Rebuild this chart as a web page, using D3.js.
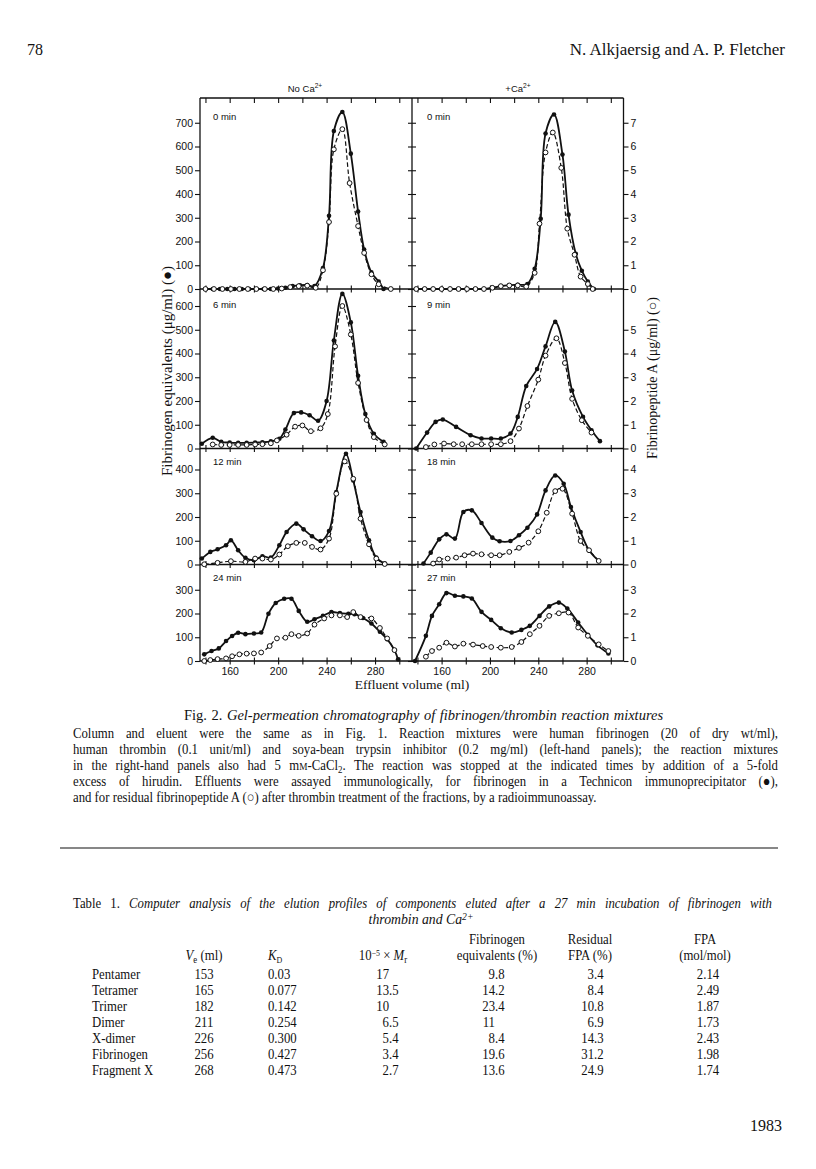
<!DOCTYPE html>
<html><head><meta charset="utf-8">
<script src="https://cdn.jsdelivr.net/npm/d3@7"></script>
<style>body{margin:0;background:#fff}</style>
</head><body>
<svg id="page" width="816" height="1169"></svg>
<script>
// ---------------- DATA ----------------
// Fibrinogen equivalents (ug/ml, filled circles) and fibrinopeptide A (ug/ml, open circles)
// each point: [effluent volume (ml), value]
const fib_noCa_0 = [[140,0],[146,0],[152,0],[158,0],[164,0],[170,0],[176,0],[182,0],[188,0],[194,0],[200,2],[206,5],[212,12],[218,16],[224,17],[230,12],[237,88],[242,308],[246,665],[253,745],[260,570],[266,326],[271,166],[277,70],[283,31],[287,0]];
const fpa_noCa_0 = [[140,0],[147,0],[154,0],[161,0],[168,0],[175,0],[182,0],[189,0],[196,0],[203,0.02],[210,0.08],[217,0.12],[224,0.14],[231,0.05],[237,0.79],[242,2.82],[246,5.88],[253,6.73],[259,4.46],[266,2.65],[271,1.52],[277,0.62],[283,0.2],[293,0]];
const fib_Ca_0 = [[139,0],[146,0],[153,0],[160,0],[167,0],[174,0],[181,0],[188,0],[195,0],[202,5],[209,12],[216,16],[223,18],[231,21],[237,85],[242,296],[246,655],[253,735],[260,566],[265,313],[271,148],[276,77],[281,31],[286,0]];
const fpa_Ca_0 = [[139,0],[146,0],[153,0],[160,0],[167,0],[174,0],[181,0],[188,0],[195,0],[202,0.05],[209,0.12],[216,0.15],[223,0.15],[230,0.1],[237,0.68],[241,2.75],[246,5.75],[252,6.59],[259,5.1],[264,2.54],[270,1.44],[275,0.52],[281,0.21],[285,0]];
const fib_noCa_6 = [[137,20],[146,45],[153,28],[160,25],[167,24],[174,24],[181,25],[187,26],[194,30],[201,41],[206,80],[213,149],[219,152],[226,140],[233,117],[240,200],[246,455],[253,651],[260,531],[266,306],[272,145],[279,62],[287,28]];
const fpa_noCa_6 = [[146,0.17],[153,0.15],[160,0.15],[167,0.15],[174,0.15],[181,0.17],[187,0.18],[194,0.22],[199,0.34],[207,0.58],[214,0.92],[220,0.97],[227,0.73],[235,0.85],[241,1.45],[247,4.3],[253,6.0],[260,4.8],[266,2.76],[273,1.2],[279,0.48],[288,0.17]];
const fib_Ca_9 = [[139,0],[148,67],[155,112],[161,122],[172,91],[184,56],[193,42],[201,42],[209,42],[217,63],[223,133],[230,263],[239,335],[246,430],[254,533],[262,408],[268,244],[277,133],[284,77],[291,31]];
const fpa_Ca_9 = [[147,0.06],[154,0.17],[162,0.21],[170,0.18],[177,0.18],[185,0.18],[193,0.18],[201,0.18],[209,0.18],[217,0.31],[224,0.84],[231,1.79],[240,2.9],[246,3.91],[255,4.64],[262,3.6],[268,2.09],[276,1.19],[284,0.67]];
const fib_noCa_12 = [[137,25],[144,53],[150,64],[157,81],[161,102],[167,60],[173,28],[180,18],[187,35],[194,29],[201,81],[207,137],[215,172],[221,148],[228,119],[235,99],[242,141],[248,305],[256,466],[262,354],[268,221],[275,102],[281,29],[288,4]];
const fpa_noCa_12 = [[139,0.01],[150,0.07],[161,0.14],[173,0.11],[181,0.25],[187,0.25],[194,0.21],[201,0.42],[208,0.77],[215,0.91],[222,0.91],[228,0.74],[235,0.63],[242,1.09],[248,2.98],[255,4.34],[262,3.61],[268,1.93],[275,0.85],[281,0.25],[288,0.02]];
const fib_Ca_18 = [[145,4],[151,50],[158,106],[164,127],[171,109],[178,221],[185,228],[193,175],[202,113],[208,98],[217,99],[224,123],[231,155],[239,211],[246,312],[254,375],[261,340],[267,242],[275,137],[282,60],[290,15]];
const fpa_Ca_18 = [[153,0.04],[158,0.21],[165,0.25],[172,0.29],[179,0.39],[186,0.46],[193,0.43],[201,0.39],[208,0.39],[216,0.53],[224,0.7],[232,0.92],[240,1.4],[247,2.18],[254,3.09],[260,3.19],[268,2.14],[275,0.99],[282,0.6],[290,0.15]];
const fib_noCa_24 = [[139,28],[145,42],[151,53],[157,84],[162,105],[167,119],[173,113],[180,116],[186,120],[192,199],[198,244],[205,262],[211,262],[217,211],[224,165],[230,176],[237,190],[244,206],[251,202],[258,199],[263,197],[270,181],[277,158],[284,123],[290,92],[296,46],[299,7]];
const fpa_noCa_24 = [[139,0],[144,0.04],[150,0.08],[157,0.11],[162,0.2],[168,0.28],[174,0.31],[180,0.32],[186,0.36],[193,0.63],[199,0.95],[206,0.98],[211,1.13],[217,1.06],[224,1.16],[230,1.53],[238,1.79],[244,1.92],[251,1.92],[257,1.85],[262,2.06],[268,1.85],[277,1.79],[284,1.39],[290,0.95],[296,0.46]];
const fib_Ca_27 = [[138,0],[147,106],[152,190],[158,239],[164,286],[171,275],[178,272],[185,263],[193,207],[201,173],[209,138],[218,120],[226,131],[233,148],[241,190],[249,230],[257,246],[264,221],[273,162],[281,110],[289,66],[298,32]];
const fpa_Ca_27 = [[147,0.18],[152,0.42],[158,0.56],[164,0.77],[171,0.61],[178,0.73],[186,0.69],[194,0.63],[201,0.59],[209,0.56],[218,0.59],[226,0.8],[233,1.13],[241,1.48],[249,1.9],[257,2.01],[265,2.04],[273,1.41],[281,1.06],[290,0.7],[298,0.42]];

const panelTimes = ["0 min","6 min","12 min","24 min"];
const panelTimesCa = ["0 min","9 min","18 min","27 min"];
const leftTicks = [[0,100,200,300,400,500,600,700],[0,100,200,300,400,500,600],[0,100,200,300,400],[0,100,200,300]];
const rightTicks = [[0,1,2,3,4,5,6,7],[0,1,2,3,4,5],[0,1,2,3,4],[0,1,2,3]];
const xTickValues = [140,160,180,200,220,240,260,280,300];
const xTickLabels = [160,200,240,280];

const tableRows = ["Pentamer","Tetramer","Trimer","Dimer","X-dimer","Fibrinogen","Fragment X"];
const colVe = ["153","165","182","211","226","256","268"];
const colKD = ["0.03","0.077","0.142","0.254","0.300","0.427","0.473"];
const colMr = ["17","13.5","10","6.5","5.4","3.4","2.7"];
const colFib = ["9.8","14.2","23.4","11","8.4","19.6","13.6"];
const colRes = ["3.4","8.4","10.8","6.9","14.3","31.2","24.9"];
const colFPA = ["2.14","2.49","1.87","1.73","2.43","1.98","1.74"];

// ---------------- LAYOUT ----------------
const svg = d3.select("#page");
svg.append("rect").attr("width",816).attr("height",1169).attr("fill","#fff");
const ink = "#111";
const serif = "'Liberation Serif','Times New Roman',serif";
const sans = "'Liberation Sans',Arial,sans-serif";

const X0 = 200, XM = 412, X1 = 623.5;
const rowTops = [98, 289, 448.5, 564.5];
const rowBots = [289, 448.5, 564.5, 661];
const pxPerUnit = 0.2375;
const xDomain = [135.5, 310.5];
const xL = d3.scaleLinear().domain(xDomain).range([X0, XM]);
const xR = d3.scaleLinear().domain(xDomain).range([XM, X1]);

const panels = [
  [fib_noCa_0, fpa_noCa_0, fib_Ca_0, fpa_Ca_0],
  [fib_noCa_6, fpa_noCa_6, fib_Ca_9, fpa_Ca_9],
  [fib_noCa_12, fpa_noCa_12, fib_Ca_18, fpa_Ca_18],
  [fib_noCa_24, fpa_noCa_24, fib_Ca_27, fpa_Ca_27]
];

const g = svg.append("g");

function richText(sel, parts){
  parts.forEach(p=>{
    const t = sel.append("tspan").text(p.t);
    if(p.italic) t.attr("font-style","italic");
    if(p.sup){ t.attr("dy",-4.5).attr("font-size",p.size||"0.7em"); }
    if(p.sub){ t.attr("dy",3).attr("font-size",p.size||"0.7em"); }
    if(p.reset) t.attr("dy",p.reset);
    if(p.fs) t.attr("font-size",p.fs);
  });
}

rowTops.forEach((top,r)=>{
  const bot = rowBots[r];
  const yMax = (bot-top)/pxPerUnit;
  const yL = d3.scaleLinear().domain([0,yMax]).range([bot,top]);
  const yRt = d3.scaleLinear().domain([0,yMax/100]).range([bot,top]);

  g.append("line").attr("x1",X0).attr("x2",X1).attr("y1",bot).attr("y2",bot).attr("stroke",ink).attr("stroke-width",1.3);
  if(r===0) g.append("line").attr("x1",X0).attr("x2",X1).attr("y1",top).attr("y2",top).attr("stroke",ink).attr("stroke-width",1.3);

  g.append("g").attr("transform",`translate(${X0},0)`)
    .call(d3.axisLeft(yL).tickValues(leftTicks[r]).tickSize(5).tickPadding(2).tickFormat(d3.format("d")));
  g.append("g").attr("transform",`translate(${XM},0)`).call(d3.axisLeft(yL).tickValues(leftTicks[r]).tickSizeInner(4).tickSizeOuter(0).tickFormat(""));
  g.append("g").attr("transform",`translate(${XM},0)`).call(d3.axisRight(yL).tickValues(leftTicks[r]).tickSizeInner(4).tickSizeOuter(0).tickFormat(""));
  g.append("g").attr("transform",`translate(${X1},0)`)
    .call(d3.axisRight(yRt).tickValues(rightTicks[r]).tickSize(5).tickPadding(2).tickFormat(d=> (r===1 && d===6) ? "" : d3.format("d")(d)));

  [xL,xR].forEach(xs=>{
    g.append("g").attr("transform",`translate(0,${bot})`).call(d3.axisBottom(xs).tickValues(xTickValues).tickSizeInner(3.5).tickSizeOuter(0).tickFormat(""));
    g.append("g").attr("transform",`translate(0,${bot})`).call(d3.axisTop(xs).tickValues(xTickValues).tickSizeInner(3.5).tickSizeOuter(0).tickFormat(""));
    if(r===0) g.append("g").attr("transform",`translate(0,${top})`).call(d3.axisBottom(xs).tickValues(xTickValues).tickSizeInner(5).tickSizeOuter(0).tickFormat(""));
    if(r===3) g.append("g").attr("transform",`translate(0,${bot})`).call(d3.axisBottom(xs).tickValues(xTickLabels).tickSize(0).tickPadding(7).tickFormat(d3.format("d")));
  });

  const [fL, oL, fR, oR] = panels[r];
  [[xL,fL,oL],[xR,fR,oR]].forEach(([xs,fd,od])=>{
    const lineF = d3.line().x(d=>xs(d[0])).y(d=>yL(d[1])).curve(d3.curveCatmullRom.alpha(0.5));
    const lineO = d3.line().x(d=>xs(d[0])).y(d=>yRt(d[1])).curve(d3.curveCatmullRom.alpha(0.5));
    g.append("path").attr("d",lineO(od)).attr("fill","none").attr("stroke",ink).attr("stroke-width",1.2).attr("stroke-dasharray","4.5,2.5");
    g.append("path").attr("d",lineF(fd)).attr("fill","none").attr("stroke",ink).attr("stroke-width",1.8);
    g.selectAll(null).data(fd).enter().append("circle").attr("cx",d=>xs(d[0])).attr("cy",d=>yL(d[1])).attr("r",2.3).attr("fill",ink);
    g.selectAll(null).data(od).enter().append("circle").attr("cx",d=>xs(d[0])).attr("cy",d=>yRt(d[1])).attr("r",2.4).attr("fill","#fff").attr("stroke",ink).attr("stroke-width",1);
  });

  const ly = top+(r===0?22:(r===1?19:16));
  g.append("text").attr("x",X0+13).attr("y",ly).attr("font-family",sans).attr("font-size",9.5).attr("fill",ink).text(panelTimes[r]);
  g.append("text").attr("x",XM+15).attr("y",ly).attr("font-family",sans).attr("font-size",9.5).attr("fill",ink).text(panelTimesCa[r]);
});

[X0,XM,X1].forEach(x=>g.append("line").attr("x1",x).attr("x2",x).attr("y1",rowTops[0]).attr("y2",rowBots[3]).attr("stroke",ink).attr("stroke-width",1.3));

g.selectAll(".domain").remove();
g.selectAll(".tick line").attr("stroke",ink).attr("stroke-width",1.1);
g.selectAll(".tick text").attr("font-family",sans).attr("font-size",10.5).attr("fill",ink);

const t1 = g.append("text").attr("x",305).attr("y",92).attr("text-anchor","middle").attr("font-family",sans).attr("font-size",9.5).attr("fill",ink);
richText(t1,[{t:"No Ca"},{t:"2+",sup:true}]);
const t2 = g.append("text").attr("x",518).attr("y",92).attr("text-anchor","middle").attr("font-family",sans).attr("font-size",9.5).attr("fill",ink);
richText(t2,[{t:"+Ca"},{t:"2+",sup:true}]);

svg.append("text").attr("transform","translate(172,371) rotate(-90)").attr("text-anchor","middle").attr("font-family",serif).attr("font-size",15).attr("fill",ink).text("Fibrinogen equivalents (μg/ml) (●)");
svg.append("text").attr("transform","translate(657,378) rotate(-90)").attr("text-anchor","middle").attr("font-family",serif).attr("font-size",14).attr("fill",ink).text("Fibrinopeptide A (μg/ml) (○)");
svg.append("text").attr("x",412).attr("y",689).attr("text-anchor","middle").attr("font-family",serif).attr("font-size",13.5).attr("fill",ink).text("Effluent volume (ml)");

// page header
svg.append("text").attr("x",27).attr("y",55).attr("font-family",serif).attr("font-size",16).attr("fill",ink).text("78");
svg.append("text").attr("x",785).attr("y",55).attr("text-anchor","end").attr("font-family",serif).attr("font-size",17).attr("fill",ink).text("N. Alkjaersig and A. P. Fletcher");

// condensed serif text helper (scan typeface is narrower than Liberation Serif)
const SX = 0.88;
function sline(x,y,parts,opt){
  opt = opt||{};
  const sx = opt.sx||SX;
  const gg = svg.append("g").attr("transform",`translate(${x},${y}) scale(${sx},1)`);
  const t = gg.append("text").attr("text-anchor",opt.anchor||"start").attr("font-family",serif).attr("font-size",opt.size||14.5).attr("fill",ink);
  if(opt.italic) t.attr("font-style","italic");
  richText(t,parts);
  if(opt.justify){
    const w = t.node().getComputedTextLength();
    const n = (parts.map(p=>p.t).join("").match(/ /g)||[]).length;
    if(n>0) t.attr("word-spacing",(opt.justify/sx - w)/n);
  }
  return t;
}

sline(184,720,[{t:"Fig. 2.  "},{t:"Gel-permeation chromatography of fibrinogen/thrombin reaction mixtures",italic:true}],{sx:1,justify:480});
const capLines = [
  [{t:"Column and eluent were the same as in Fig. 1. Reaction mixtures were human fibrinogen (20 of dry wt/ml),"}],
  [{t:"human thrombin (0.1 unit/ml) and soya-bean trypsin inhibitor (0.2 mg/ml) (left-hand panels); the reaction mixtures"}],
  [{t:"in the right-hand panels also had 5 m"},{t:"M",fs:10.5},{t:"-CaCl"},{t:"2",sub:true},{t:". The reaction was stopped at the indicated times by addition of a 5-fold",reset:-3}],
  [{t:"excess of hirudin. Effluents were assayed immunologically, for fibrinogen in a Technicon immunoprecipitator (●),"}],
  [{t:"and for residual fibrinopeptide A (○) after thrombin treatment of the fractions, by a radioimmunoassay."}]
];
capLines.forEach((ln,i)=>{ sline(73,738+i*16,ln,i<4?{justify:705}:{}); });

svg.append("line").attr("x1",60).attr("x2",778).attr("y1",848).attr("y2",848).attr("stroke",ink).attr("stroke-width",1.2);

sline(73,908,[{t:"Table 1.  "},{t:"Computer analysis of the elution profiles of components eluted after a 27 min incubation of fibrinogen with",italic:true}],{justify:705});
sline(421,924,[{t:"thrombin and Ca"},{t:"2+",sup:true}],{anchor:"middle",italic:true,sx:0.95});

const hy1 = 944, hy2 = 960;
sline(497,hy1,[{t:"Fibrinogen"}],{anchor:"middle"});
sline(590,hy1,[{t:"Residual"}],{anchor:"middle"});
sline(705,hy1,[{t:"FPA"}],{anchor:"middle"});
sline(204,hy2,[{t:"V",italic:true},{t:"e",sub:true,size:10},{t:" (ml)",reset:-3}],{anchor:"middle"});
sline(268,hy2,[{t:"K",italic:true},{t:"D",sub:true,size:9}],{anchor:"start"});
sline(383,hy2,[{t:"10"},{t:"−5",sup:true,size:9},{t:" × ",reset:4.5},{t:"M",italic:true},{t:"r",sub:true,size:10}],{anchor:"middle"});
sline(497,hy2,[{t:"equivalents (%)"}],{anchor:"middle"});
sline(590,hy2,[{t:"FPA (%)"}],{anchor:"middle"});
sline(705,hy2,[{t:"(mol/mol)"}],{anchor:"middle"});

function decimalCell(x,y,s){
  const [a,b] = s.split(".");
  sline(x,y,[{t:a}],{anchor:"end"});
  if(b!==undefined) sline(x,y,[{t:"."+b}],{anchor:"start"});
}
tableRows.forEach((name,i)=>{
  const y = 979 + i*16;
  sline(92,y,[{t:name}]);
  sline(204,y,[{t:colVe[i]}],{anchor:"middle"});
  sline(268,y,[{t:colKD[i]}]);
  decimalCell(389,y,colMr[i]);
  decimalCell(495,y,colFib[i]);
  decimalCell(594,y,colRes[i]);
  sline(708,y,[{t:colFPA[i]}],{anchor:"middle"});
});

svg.append("text").attr("x",782).attr("y",1131).attr("text-anchor","end").attr("font-family",serif).attr("font-size",16).attr("fill",ink).text("1983");
</script>
</body></html>
